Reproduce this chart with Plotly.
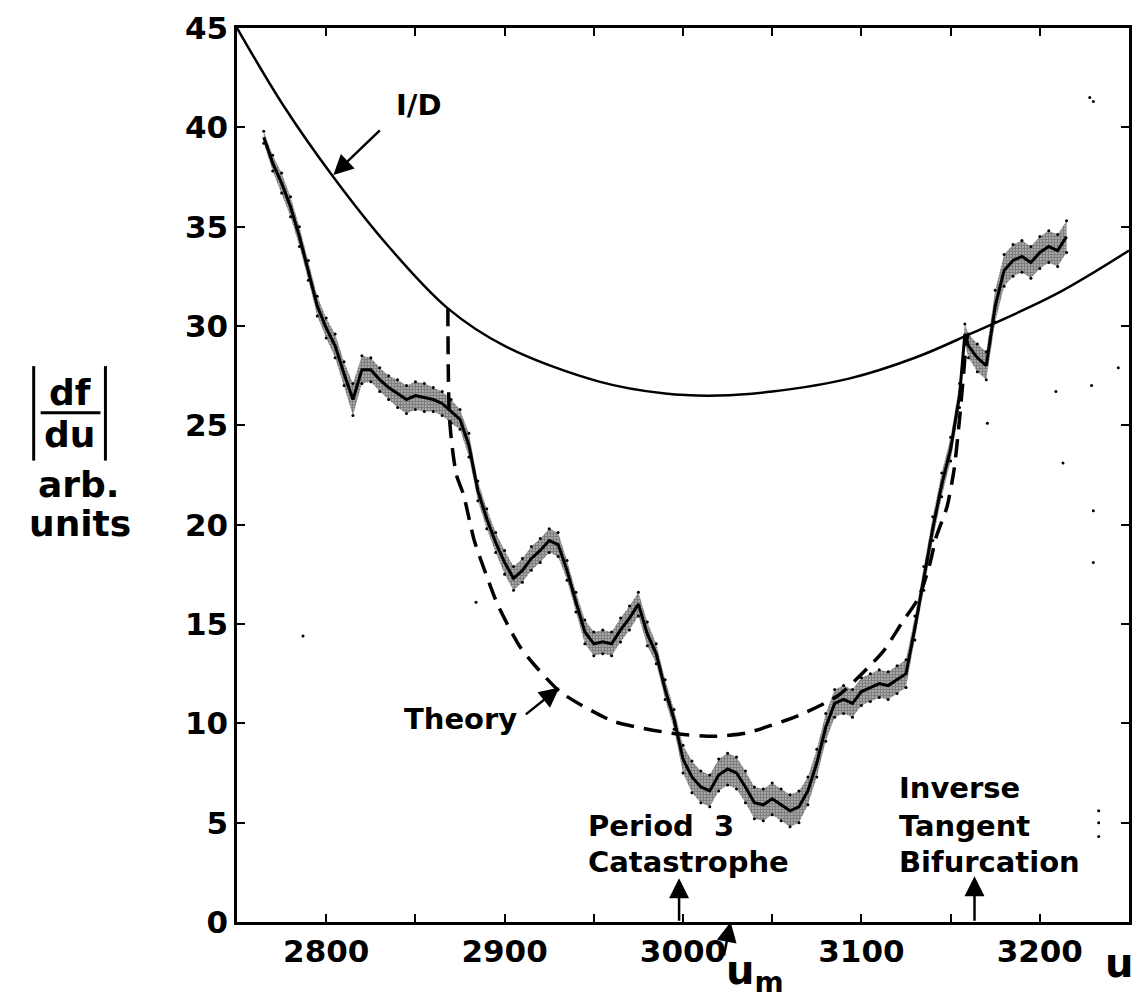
import plotly.graph_objects as go

# ---------------- data ----------------
# I/D curve (solid)
id_u = [2750, 2776, 2804, 2835, 2868, 2900, 2953, 2990, 3020, 3050, 3093, 3130, 3161, 3209, 3250]
id_val = [45.0, 41.1, 37.5, 34.0, 30.9, 29.0, 27.2, 26.6, 26.5, 26.7, 27.35, 28.4, 29.6, 31.6, 33.8]

# Theory curve (dashed)
theory_u = [2868.2, 2868.4, 2869.0, 2870.5, 2873, 2877, 2883, 2890, 2896, 2909, 2931, 2961, 2994,
            3017, 3035, 3065, 3087, 3112, 3123, 3132, 3138, 3142, 3148, 3152, 3155, 3157, 3159, 3160]
theory_val = [30.9, 28.0, 25.5, 24.0, 22.5, 21.5, 19.2, 17.4, 16.0, 13.8, 11.6, 10.1, 9.5,
              9.35, 9.5, 10.4, 11.4, 13.6, 15.1, 16.3, 17.9, 19.4, 20.9, 22.8, 25.3, 27.3, 29.3, 29.6]

# measured |df/du| : centre of the dotted band and its half width
data_u = [2765, 2770, 2775, 2780, 2785, 2790, 2795, 2800, 2805, 2810, 2815, 2820, 2825, 2830,
          2835, 2840, 2845, 2850, 2855, 2860, 2865, 2870, 2875, 2880, 2885, 2890, 2895, 2900,
          2905, 2910, 2915, 2920, 2925, 2930, 2935, 2940, 2945, 2950, 2955, 2960, 2965, 2970,
          2975, 2980, 2985, 2990, 2995, 3000, 3005, 3010, 3015, 3020, 3025, 3030, 3035, 3040,
          3045, 3050, 3055, 3060, 3065, 3070, 3075, 3080, 3085, 3090, 3095, 3100, 3105, 3110,
          3115, 3120, 3125, 3130, 3135, 3140, 3145, 3150, 3155, 3158, 3160, 3165, 3170, 3175,
          3180, 3185, 3190, 3195, 3200, 3205, 3210, 3215]
data_mid = [39.5, 38.2, 37.2, 36.0, 34.5, 32.8, 31.0, 29.9, 29.0, 27.6, 26.3, 27.8, 27.8, 27.3,
            26.9, 26.6, 26.3, 26.5, 26.4, 26.3, 26.1, 25.7, 25.3, 24.0, 21.7, 20.3, 19.1, 18.1,
            17.3, 17.7, 18.3, 18.7, 19.2, 19.0, 17.7, 16.1, 14.6, 14.0, 14.1, 14.0, 14.7, 15.3,
            16.0, 14.5, 13.5, 11.7, 10.2, 8.2, 7.3, 6.8, 6.6, 7.4, 7.7, 7.5, 6.8, 6.0,
            5.9, 6.2, 5.9, 5.6, 5.8, 6.6, 8.0, 9.8, 11.0, 11.2, 11.0, 11.6, 11.8, 12.0,
            11.9, 12.2, 12.5, 14.8, 17.3, 19.8, 22.0, 23.8, 26.5, 29.6, 29.0, 28.4, 28.0, 31.0,
            32.8, 33.3, 33.5, 33.2, 33.7, 34.0, 33.8, 34.5]
data_half = [0.3, 0.4, 0.5, 0.5, 0.5, 0.5, 0.5, 0.5, 0.6, 0.6, 0.8, 0.7, 0.6, 0.6,
             0.6, 0.7, 0.7, 0.7, 0.7, 0.6, 0.6, 0.6, 0.5, 0.6, 0.5, 0.5, 0.5, 0.6,
             0.6, 0.6, 0.6, 0.6, 0.6, 0.6, 0.5, 0.5, 0.6, 0.6, 0.6, 0.6, 0.6, 0.6,
             0.6, 0.6, 0.5, 0.5, 0.5, 0.7, 0.8, 0.8, 0.8, 0.8, 0.8, 0.8, 0.8, 0.8,
             0.8, 0.8, 0.8, 0.8, 0.8, 0.7, 0.7, 0.7, 0.7, 0.7, 0.7, 0.7, 0.7, 0.7,
             0.7, 0.7, 0.7, 0.6, 0.6, 0.6, 0.6, 0.6, 0.6, 0.5, 0.6, 0.7, 0.7, 0.8,
             0.8, 0.8, 0.8, 0.8, 0.8, 0.8, 0.8, 0.8]

# isolated stray dots
stray_u = [2787, 2884, 3170.6, 3209, 3213, 3229, 3230, 3230, 3244, 3233, 3233, 3233, 3228, 3230]
stray_val = [14.4, 16.1, 25.1, 26.7, 23.1, 27.0, 20.7, 18.1, 27.9, 5.6, 5.0, 4.3, 41.5, 41.3]

x_tick_vals = [2800, 2900, 3000, 3100, 3200]
y_tick_vals = [0, 5, 10, 15, 20, 25, 30, 35, 40, 45]

# ---------------- figure ----------------
FONT = "DejaVu Sans"
fig = go.Figure()

data_hi = [m + h for m, h in zip(data_mid, data_half)]
data_lo = [m - h for m, h in zip(data_mid, data_half)]

fig.add_trace(go.Scatter(x=data_u + data_u[::-1], y=data_hi + data_lo[::-1],
                         mode="lines", fill="toself",
                         line=dict(width=0, color="black"),
                         fillcolor="rgba(0,0,0,0)",
                         fillpattern=dict(shape=".", fgcolor="black", bgcolor="rgba(0,0,0,0)",
                                          size=3, solidity=0.8),
                         hoverinfo="skip", showlegend=False))
for edge in (data_hi, data_lo):
    fig.add_trace(go.Scatter(x=data_u, y=edge, mode="markers",
                             marker=dict(color="black", size=3),
                             hoverinfo="skip", showlegend=False))
fig.add_trace(go.Scatter(x=data_u, y=data_mid, mode="lines",
                         line=dict(color="black", width=3),
                         showlegend=False))
fig.add_trace(go.Scatter(x=stray_u, y=stray_val, mode="markers",
                         marker=dict(color="black", size=3), showlegend=False))

fig.add_trace(go.Scatter(x=id_u, y=id_val, mode="lines", line_shape="spline",
                         line=dict(color="black", width=2.5), showlegend=False))
fig.add_trace(go.Scatter(x=theory_u, y=theory_val, mode="lines", line_shape="spline",
                         line=dict(color="black", width=3.5, dash="18px,10px", smoothing=0.6),
                         showlegend=False))

axis_common = dict(showline=True, linecolor="black", linewidth=2.5, mirror="ticks",
                   ticks="inside", ticklen=8, tickwidth=2, tickcolor="black",
                   showgrid=False, zeroline=False,
                   tickfont=dict(family=FONT, size=31, color="black", weight="bold"))

fig.update_xaxes(range=[2750, 3250], tickvals=x_tick_vals, ticktext=[str(v) for v in x_tick_vals],
                 minor=dict(ticks="inside", ticklen=8, tickwidth=2, tickcolor="black",
                            tick0=2750, dtick=50),
                 **axis_common)
fig.update_yaxes(range=[0, 45], tickvals=y_tick_vals, **axis_common)

ann_font = dict(family=FONT, size=29, color="black", weight="bold")
arrow_style = dict(showarrow=True, arrowhead=2, arrowsize=1.6, arrowwidth=2.5,
                   arrowcolor="black", text="")
annotations = [
    # I/D
    dict(x=2852, y=41.1, text="I/D", showarrow=False, font=ann_font),
    dict(x=2804, y=37.6, ax=48, ay=-46, **arrow_style),
    # Theory
    dict(x=2875, y=10.2, text="Theory", showarrow=False, font=ann_font),
    dict(x=2930.7, y=11.8, ax=-35, ay=28, **arrow_style),
    # Period 3 Catastrophe
    dict(x=2945.5, y=4.85, text="Period  3", showarrow=False, font=ann_font, xanchor="left"),
    dict(x=2945.5, y=3.0, text="Catastrophe", showarrow=False, font=ann_font, xanchor="left"),
    dict(x=2997.8, y=2.2, ax=0, ay=44, **arrow_style),
    # Inverse Tangent Bifurcation
    dict(x=3119.8, y=6.75, text="Inverse", showarrow=False, font=ann_font, xanchor="left"),
    dict(x=3119.8, y=4.85, text="Tangent", showarrow=False, font=ann_font, xanchor="left"),
    dict(x=3119.8, y=3.0, text="Bifurcation", showarrow=False, font=ann_font, xanchor="left"),
    dict(x=3163.4, y=2.3, ax=0, ay=46, **arrow_style),
    # u_m
    dict(x=3026.7, y=0, ax=-7, ay=35, **arrow_style),
]

# helpers for positions in the margins (pixel -> paper fraction)
def px(xp):
    return (xp - 237) / 895.0

def py(yp):
    return (922 - yp) / 899.0

big_font = dict(family=FONT, size=40, color="black", weight="bold")
annotations += [
    dict(xref="paper", yref="paper", x=px(757), y=py(973), text="u<sub>m</sub>", showarrow=False,
         xanchor="center", yanchor="middle", font=big_font),
    dict(xref="paper", yref="paper", x=px(1122), y=py(963), text="u", showarrow=False,
         xanchor="center", yanchor="middle", font=big_font),
]

lab_font = dict(family=FONT, size=36, color="black", weight="bold")
annotations += [
    dict(xref="paper", yref="paper", x=px(69), y=py(390), text="df", showarrow=False,
         xanchor="center", yanchor="middle", font=lab_font),
    dict(xref="paper", yref="paper", x=px(69), y=py(432), text="du", showarrow=False,
         xanchor="center", yanchor="middle", font=lab_font),
    dict(xref="paper", yref="paper", x=px(78), y=py(482), text="arb.", showarrow=False,
         xanchor="center", yanchor="middle", font=lab_font),
    dict(xref="paper", yref="paper", x=px(79), y=py(521), text="units", showarrow=False,
         xanchor="center", yanchor="middle", font=lab_font),
]
fig.update_layout(annotations=annotations)

shapes = [
    dict(type="line", xref="paper", yref="paper", x0=px(40), x1=px(100), y0=py(410), y1=py(410),
         line=dict(color="black", width=3)),
    dict(type="line", xref="paper", yref="paper", x0=px(33), x1=px(33), y0=py(363), y1=py(458),
         line=dict(color="black", width=3)),
    dict(type="line", xref="paper", yref="paper", x0=px(105), x1=px(105), y0=py(363), y1=py(458),
         line=dict(color="black", width=3)),
]
fig.update_layout(shapes=shapes)

fig.update_layout(width=1142, height=1003, margin=dict(l=237, r=10, t=23, b=81),
                  plot_bgcolor="white", paper_bgcolor="white")

fig.write_html("out.html")
